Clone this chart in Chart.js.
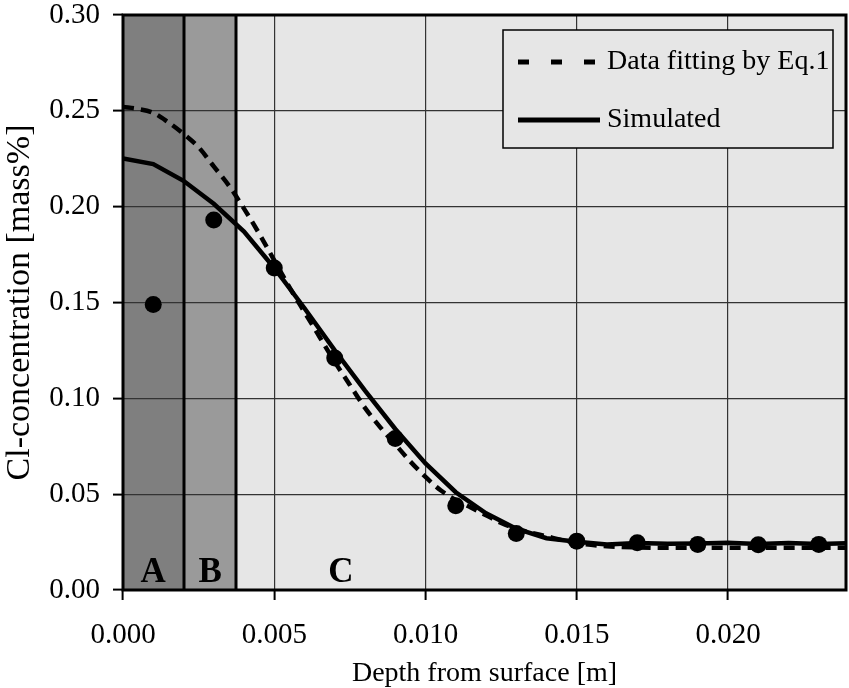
<!DOCTYPE html>
<html>
<head>
<meta charset="utf-8">
<script src="https://cdn.jsdelivr.net/npm/chart.js@4"></script>
<style>
html,body{margin:0;padding:0;background:#fff}
</style>
</head>
<body>
<canvas id="c" width="849" height="688"></canvas>
<script>
// ---- data ----
const measDepth=[0.001,0.003,0.005,0.007,0.009,0.011,0.013,0.015,0.017,0.019,0.021,0.023];
const measConc=[0.149,0.193,0.168,0.121,0.079,0.044,0.0295,0.0255,0.0246,0.0238,0.0236,0.0238];

const fitDepth=[0,0.0005,0.001,0.0015,0.002,0.0025,0.003,0.0035,0.004,0.0045,0.005,0.0055,0.006,0.0065,0.007,0.0075,0.008,0.0085,0.009,0.0095,0.010,0.0105,0.011,0.0115,0.012,0.0125,0.013,0.014,0.015,0.016,0.017,0.018,0.019,0.020,0.021,0.022,0.023,0.024];
const fitConc=[0.252,0.251,0.249,0.244,0.238,0.231,0.221,0.211,0.199,0.186,0.172,0.158,0.145,0.132,0.119,0.107,0.095,0.085,0.076,0.067,0.059,0.052,0.047,0.043,0.039,0.035,0.032,0.028,0.0245,0.0228,0.0222,0.022,0.022,0.022,0.022,0.022,0.022,0.022];

const simDepth=[0,0.001,0.002,0.003,0.004,0.005,0.006,0.007,0.008,0.009,0.010,0.011,0.012,0.013,0.014,0.015,0.016,0.017,0.018,0.019,0.020,0.021,0.022,0.023,0.024];
const simConc=[0.2252,0.2222,0.2135,0.2015,0.187,0.168,0.147,0.125,0.104,0.084,0.066,0.051,0.040,0.032,0.027,0.0252,0.0238,0.0245,0.0241,0.0243,0.0246,0.024,0.0245,0.024,0.0245];

const seriesNames=['Data fitting by Eq.1','Simulated'];
const zoneNames=['A','B','C'];
const zoneEdges=[0,0.002,0.00375];
const zoneLabelAt=[0.001,0.00288,0.0072];

const xTicks=[0,0.005,0.010,0.015,0.020];
const yTicks=[0,0.05,0.10,0.15,0.20,0.25,0.30];

const SERIF="'Liberation Serif','Times New Roman',serif";
const zoneFills=['#7f7f7f','#9a9a9a','#e6e6e6'];

const pts=(xs,ys)=>xs.map((x,i)=>({x,y:ys[i]}));

// background zones, frame, zone letters, boxed legend
const zonePlugin={
  id:'zones',
  beforeDraw(chart){
    const {ctx,chartArea:a,scales:{x}}=chart;
    ctx.save();
    zoneNames.forEach((n,i)=>{
      const x0=x.getPixelForValue(zoneEdges[i]);
      const x1=i+1<zoneEdges.length?x.getPixelForValue(zoneEdges[i+1]):a.right;
      ctx.fillStyle=zoneFills[i];
      ctx.fillRect(x0,a.top,x1-x0,a.bottom-a.top);
    });
    ctx.restore();
  },
  beforeDatasetsDraw(chart){
    const {ctx,chartArea:a,scales:{x}}=chart;
    ctx.save();
    ctx.strokeStyle='#000';ctx.lineWidth=3;
    zoneEdges.slice(1).forEach(v=>{
      const px=Math.round(x.getPixelForValue(v));
      ctx.beginPath();ctx.moveTo(px,a.top);ctx.lineTo(px,a.bottom);ctx.stroke();
    });
    ctx.strokeRect(a.left,a.top,a.right-a.left,a.bottom-a.top);
    ctx.fillStyle='#000';
    ctx.font='bold 35px '+SERIF;
    ctx.textAlign='center';ctx.textBaseline='alphabetic';
    zoneNames.forEach((n,i)=>ctx.fillText(n,x.getPixelForValue(zoneLabelAt[i]),a.bottom-8));
    ctx.restore();
  },
  afterDatasetsDraw(chart){
    const {ctx,chartArea:a}=chart;
    const w=330,h=118;
    const left=a.right-13-w,top=a.top+15;
    ctx.save();
    ctx.fillStyle='#e6e6e6';
    ctx.fillRect(left,top,w,h);
    ctx.strokeStyle='#000';ctx.lineWidth=1.5;
    ctx.strokeRect(left,top,w,h);
    const rows=[top+32,top+90];
    const dashes=[[11,22],[]];
    rows.forEach((y,i)=>{
      ctx.lineWidth=5;ctx.setLineDash(dashes[i]);
      ctx.beginPath();ctx.moveTo(left+15,y);ctx.lineTo(left+97,y);ctx.stroke();
      ctx.setLineDash([]);
      ctx.fillStyle='#000';ctx.font='28px '+SERIF;
      ctx.textAlign='left';ctx.textBaseline='middle';
      ctx.fillText(seriesNames[i],left+104,y);
    });
    ctx.restore();
  }
};

new Chart(document.getElementById('c'),{
  type:'line',
  data:{datasets:[
    {label:'Measured',data:pts(measDepth,measConc),showLine:false,pointRadius:8.5,pointHoverRadius:8.5,
     pointBackgroundColor:'#000',pointBorderColor:'#000',pointBorderWidth:0},
    {label:seriesNames[0],data:pts(fitDepth,fitConc),borderColor:'#000',borderWidth:4.5,borderDash:[11,7],
     pointRadius:0,cubicInterpolationMode:'monotone',fill:false},
    {label:seriesNames[1],data:pts(simDepth,simConc),borderColor:'#000',borderWidth:4.5,
     pointRadius:0,tension:0,fill:false}
  ]},
  options:{
    responsive:false,animation:false,
    layout:{autoPadding:false,padding:{top:15,right:3,bottom:0,left:0}},
    plugins:{legend:{display:false},tooltip:{enabled:false}},
    scales:{
      x:{type:'linear',min:0,max:0.0239,
        afterFit:s=>{s.height=98;s.paddingLeft=0;s.paddingRight=0;},
        afterBuildTicks:s=>{s.ticks=xTicks.map(v=>({value:v}));},
        grid:{color:'#333',lineWidth:1.2,tickLength:10,tickColor:'#000',tickWidth:2},
        border:{display:false},
        ticks:{color:'#000',padding:18,maxRotation:0,font:{family:SERIF,size:29},callback:v=>v.toFixed(3)},
        title:{display:true,text:'Depth from surface [m]',color:'#000',padding:0,font:{family:SERIF,size:28,lineHeight:1}}
      },
      y:{type:'linear',min:0,max:0.30,
        afterFit:s=>{s.width=123;s.paddingTop=0;s.paddingBottom=0;},
        afterBuildTicks:s=>{s.ticks=yTicks.map(v=>({value:v}));},
        grid:{color:'#333',lineWidth:1.2,tickLength:10,tickColor:'#000',tickWidth:2},
        border:{display:false},
        ticks:{color:'#000',padding:13,font:{family:SERIF,size:29},callback:v=>v.toFixed(2)},
        title:{display:true,text:'Cl-concentration [mass%]',color:'#000',padding:0,font:{family:SERIF,size:34}}
      }
    }
  },
  plugins:[zonePlugin]
});
</script>
</body>
</html>
